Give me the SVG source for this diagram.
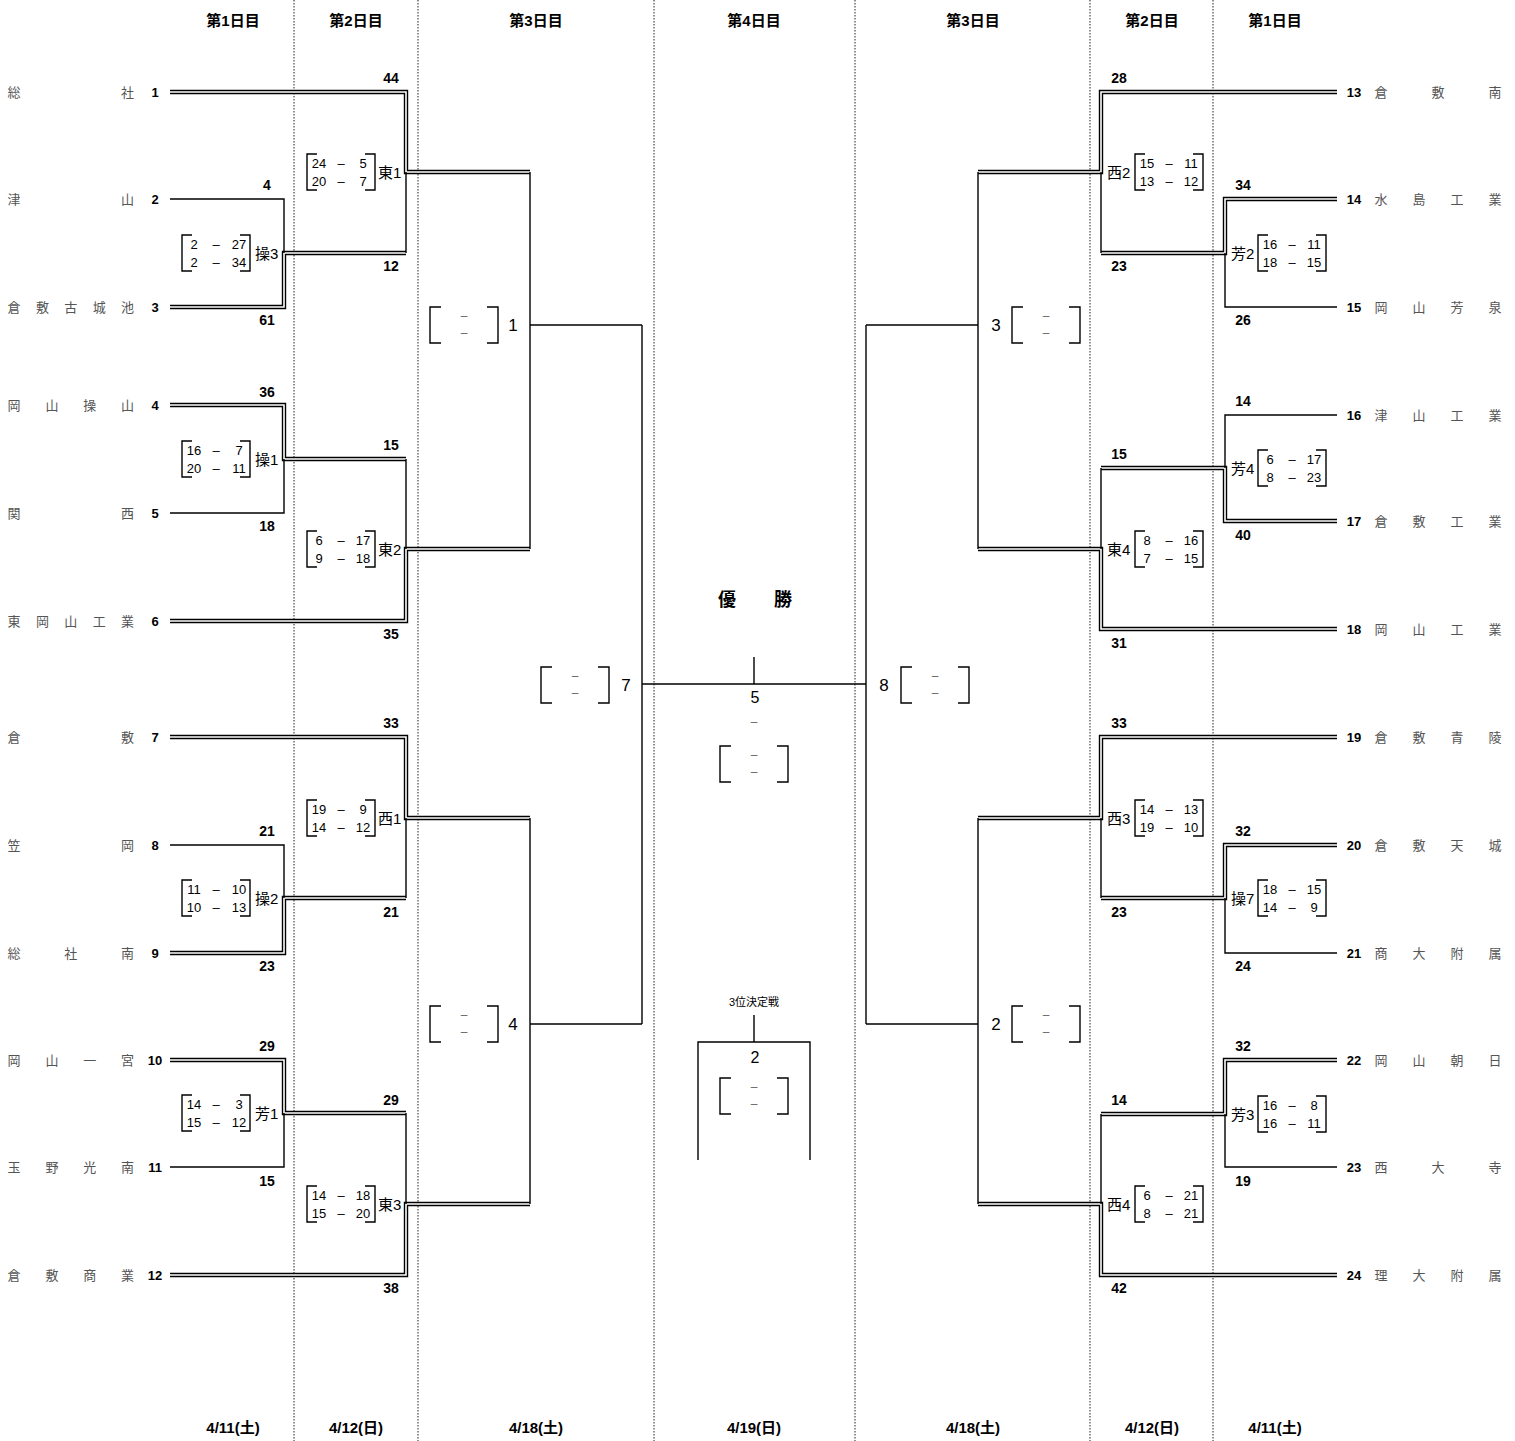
<svg xmlns="http://www.w3.org/2000/svg" width="1515" height="1441" viewBox="0 0 1515 1441">
<style>
text{font-family:"Liberation Sans","Noto Sans CJK JP",sans-serif;fill:#000;dominant-baseline:central}
.hd{font-size:15px;font-weight:bold;text-anchor:middle}
.nm{font-size:13px;fill:#555;text-anchor:middle}
.tn{font-size:13px;font-weight:bold;text-anchor:middle}
.sc{font-size:14px;font-weight:bold;text-anchor:middle}
.bx{font-size:13px;text-anchor:middle}
.lb{font-size:15px}
.mn{font-size:17px;text-anchor:middle}
.ds{font-size:12px;fill:#666;text-anchor:middle}
.dot{stroke:#222;stroke-width:1;stroke-dasharray:1.5 1.5;fill:none}
.s{stroke:#000;stroke-width:1.4;fill:none}
.dO{stroke:#000;stroke-width:4.4;fill:none;stroke-linejoin:miter}
.dI{stroke:#fff;stroke-width:1.6;fill:none;stroke-linejoin:miter}
.br{stroke:#000;stroke-width:1.4;fill:none}
</style>
<defs>
<path id="bk" d="M10,-18H0V18H10M58,-18H68V18H58"/>
<path id="bks" d="M11,-18H0V18H11M57,-18H68V18H57"/>
</defs>
<rect width="1515" height="1441" fill="#fff"/>
<g id="grid">
<path class="dot" d="M294,0V1441M418,0V1441M654,0V1441M855,0V1441M1090,0V1441M1213,0V1441"/>
</g>
<g id="headers">
<text class="hd" x="233" y="20">第1日目</text>
<text class="hd" x="356" y="20">第2日目</text>
<text class="hd" x="536" y="20">第3日目</text>
<text class="hd" x="754" y="20">第4日目</text>
<text class="hd" x="973" y="20">第3日目</text>
<text class="hd" x="1152" y="20">第2日目</text>
<text class="hd" x="1275" y="20">第1日目</text>
<text class="hd" x="233" y="1427">4/11(土)</text>
<text class="hd" x="356" y="1427">4/12(日)</text>
<text class="hd" x="536" y="1427">4/18(土)</text>
<text class="hd" x="754" y="1427">4/19(日)</text>
<text class="hd" x="973" y="1427">4/18(土)</text>
<text class="hd" x="1152" y="1427">4/12(日)</text>
<text class="hd" x="1275" y="1427">4/11(土)</text>
</g>
<g id="teams-left">
<text class="nm" x="14 127.6" y="92">総社</text><text class="tn" x="155" y="92">1</text>
<text class="nm" x="14 127.6" y="199">津山</text><text class="tn" x="155" y="199">2</text>
<text class="nm" x="14 42.4 70.8 99.2 127.6" y="307">倉敷古城池</text><text class="tn" x="155" y="307">3</text>
<text class="nm" x="14 51.9 89.8 127.6" y="405">岡山操山</text><text class="tn" x="155" y="405">4</text>
<text class="nm" x="14 127.6" y="513">関西</text><text class="tn" x="155" y="513">5</text>
<text class="nm" x="14 42.4 70.8 99.2 127.6" y="621">東岡山工業</text><text class="tn" x="155" y="621">6</text>
<text class="nm" x="14 127.6" y="737">倉敷</text><text class="tn" x="155" y="737">7</text>
<text class="nm" x="14 127.6" y="845">笠岡</text><text class="tn" x="155" y="845">8</text>
<text class="nm" x="14 70.8 127.6" y="953">総社南</text><text class="tn" x="155" y="953">9</text>
<text class="nm" x="14 51.9 89.8 127.6" y="1060">岡山一宮</text><text class="tn" x="155" y="1060">10</text>
<text class="nm" x="14 51.9 89.8 127.6" y="1167">玉野光南</text><text class="tn" x="155" y="1167">11</text>
<text class="nm" x="14 51.9 89.8 127.6" y="1275">倉敷商業</text><text class="tn" x="155" y="1275">12</text>
</g>
<g id="teams-right">
<text class="tn" x="1354" y="92">13</text><text class="nm" x="1381 1438 1495" y="92">倉敷南</text>
<text class="tn" x="1354" y="199">14</text><text class="nm" x="1381 1419 1457 1495" y="199">水島工業</text>
<text class="tn" x="1354" y="307">15</text><text class="nm" x="1381 1419 1457 1495" y="307">岡山芳泉</text>
<text class="tn" x="1354" y="415">16</text><text class="nm" x="1381 1419 1457 1495" y="415">津山工業</text>
<text class="tn" x="1354" y="521">17</text><text class="nm" x="1381 1419 1457 1495" y="521">倉敷工業</text>
<text class="tn" x="1354" y="629">18</text><text class="nm" x="1381 1419 1457 1495" y="629">岡山工業</text>
<text class="tn" x="1354" y="737">19</text><text class="nm" x="1381 1419 1457 1495" y="737">倉敷青陵</text>
<text class="tn" x="1354" y="845">20</text><text class="nm" x="1381 1419 1457 1495" y="845">倉敷天城</text>
<text class="tn" x="1354" y="953">21</text><text class="nm" x="1381 1419 1457 1495" y="953">商大附属</text>
<text class="tn" x="1354" y="1060">22</text><text class="nm" x="1381 1419 1457 1495" y="1060">岡山朝日</text>
<text class="tn" x="1354" y="1167">23</text><text class="nm" x="1381 1438 1495" y="1167">西大寺</text>
<text class="tn" x="1354" y="1275">24</text><text class="nm" x="1381 1419 1457 1495" y="1275">理大附属</text>
</g>
<g id="connectors">
<g id="winners">
<path class="dO" d="M170,92H406V172H530M170,307H284V253H406M170,405H284V459H406M170,621H406V549H530M170,737H406V818H530M170,953H284V898H406M170,1060H284V1113H406M170,1275H406V1204H530"/>
<path class="dI" d="M170,92H406V172H530M170,307H284V253H406M170,405H284V459H406M170,621H406V549H530M170,737H406V818H530M170,953H284V898H406M170,1060H284V1113H406M170,1275H406V1204H530"/>
<path class="dO" d="M1337,92H1101V172H978M1337,199H1225V253H1101M1337,521H1225V468H1101M1337,629H1101V549H978M1337,737H1101V818H978M1337,845H1225V898H1101M1337,1060H1225V1114H1101M1337,1275H1101V1204H978"/>
<path class="dI" d="M1337,92H1101V172H978M1337,199H1225V253H1101M1337,521H1225V468H1101M1337,629H1101V549H978M1337,737H1101V818H978M1337,845H1225V898H1101M1337,1060H1225V1114H1101M1337,1275H1101V1204H978"/>
</g>
<path class="s" d="M170,199H284V253M170,513H284V459M170,845H284V898M170,1167H284V1113M406,172V253M406,459V549M406,818V898M406,1113V1204M530,172V549M530,325H642M530,818V1204M530,1024H642M642,325V1024M642,684H866"/>
<path class="s" d="M1337,307H1225V253M1337,415H1225V468M1337,953H1225V898M1337,1167H1225V1114M1101,172V253M1101,468V549M1101,818V898M1101,1114V1204M978,172V549M978,325H866M978,818V1204M978,1024H866M866,325V1024"/>
<path class="s" d="M754,657V684M754,1015V1042M698,1160V1042H810V1160"/>
</g>
<g id="scores-left">
<text class="sc" x="267" y="185">4</text><text class="sc" x="267" y="320">61</text>
<text class="sc" x="267" y="392">36</text><text class="sc" x="267" y="526">18</text>
<text class="sc" x="267" y="831">21</text><text class="sc" x="267" y="966">23</text>
<text class="sc" x="267" y="1046">29</text><text class="sc" x="267" y="1181">15</text>
<text class="sc" x="391" y="78">44</text><text class="sc" x="391" y="266">12</text>
<text class="sc" x="391" y="445">15</text><text class="sc" x="391" y="634">35</text>
<text class="sc" x="391" y="723">33</text><text class="sc" x="391" y="912">21</text>
<text class="sc" x="391" y="1100">29</text><text class="sc" x="391" y="1288">38</text>
</g>
<g id="scores-right">
<text class="sc" x="1243" y="185">34</text><text class="sc" x="1243" y="320">26</text>
<text class="sc" x="1243" y="401">14</text><text class="sc" x="1243" y="535">40</text>
<text class="sc" x="1243" y="831">32</text><text class="sc" x="1243" y="966">24</text>
<text class="sc" x="1243" y="1046">32</text><text class="sc" x="1243" y="1181">19</text>
<text class="sc" x="1119" y="78">28</text><text class="sc" x="1119" y="266">23</text>
<text class="sc" x="1119" y="454">15</text><text class="sc" x="1119" y="643">31</text>
<text class="sc" x="1119" y="723">33</text><text class="sc" x="1119" y="912">23</text>
<text class="sc" x="1119" y="1100">14</text><text class="sc" x="1119" y="1288">42</text>
</g>
<g id="m-sou3"><use href="#bk" class="br" x="182" y="253"/><text class="bx" y="244"><tspan x="194">2</tspan><tspan x="216">–</tspan><tspan x="239">27</tspan></text><text class="bx" y="262"><tspan x="194">2</tspan><tspan x="216">–</tspan><tspan x="239">34</tspan></text><text class="lb" x="255" y="253">操3</text></g>
<g id="m-sou1"><use href="#bk" class="br" x="182" y="459"/><text class="bx" y="450"><tspan x="194">16</tspan><tspan x="216">–</tspan><tspan x="239">7</tspan></text><text class="bx" y="468"><tspan x="194">20</tspan><tspan x="216">–</tspan><tspan x="239">11</tspan></text><text class="lb" x="255" y="459">操1</text></g>
<g id="m-sou2"><use href="#bk" class="br" x="182" y="898"/><text class="bx" y="889"><tspan x="194">11</tspan><tspan x="216">–</tspan><tspan x="239">10</tspan></text><text class="bx" y="907"><tspan x="194">10</tspan><tspan x="216">–</tspan><tspan x="239">13</tspan></text><text class="lb" x="255" y="898">操2</text></g>
<g id="m-hou1"><use href="#bk" class="br" x="182" y="1113"/><text class="bx" y="1104"><tspan x="194">14</tspan><tspan x="216">–</tspan><tspan x="239">3</tspan></text><text class="bx" y="1122"><tspan x="194">15</tspan><tspan x="216">–</tspan><tspan x="239">12</tspan></text><text class="lb" x="255" y="1113">芳1</text></g>
<g id="m-higashi1"><use href="#bk" class="br" x="307" y="172"/><text class="bx" y="163"><tspan x="319">24</tspan><tspan x="341">–</tspan><tspan x="363">5</tspan></text><text class="bx" y="181"><tspan x="319">20</tspan><tspan x="341">–</tspan><tspan x="363">7</tspan></text><text class="lb" x="378" y="172">東1</text></g>
<g id="m-higashi2"><use href="#bk" class="br" x="307" y="549"/><text class="bx" y="540"><tspan x="319">6</tspan><tspan x="341">–</tspan><tspan x="363">17</tspan></text><text class="bx" y="558"><tspan x="319">9</tspan><tspan x="341">–</tspan><tspan x="363">18</tspan></text><text class="lb" x="378" y="549">東2</text></g>
<g id="m-nishi1"><use href="#bk" class="br" x="307" y="818"/><text class="bx" y="809"><tspan x="319">19</tspan><tspan x="341">–</tspan><tspan x="363">9</tspan></text><text class="bx" y="827"><tspan x="319">14</tspan><tspan x="341">–</tspan><tspan x="363">12</tspan></text><text class="lb" x="378" y="818">西1</text></g>
<g id="m-higashi3"><use href="#bk" class="br" x="307" y="1204"/><text class="bx" y="1195"><tspan x="319">14</tspan><tspan x="341">–</tspan><tspan x="363">18</tspan></text><text class="bx" y="1213"><tspan x="319">15</tspan><tspan x="341">–</tspan><tspan x="363">20</tspan></text><text class="lb" x="378" y="1204">東3</text></g>
<g id="m-nishi2"><text class="lb" x="1107" y="172">西2</text><use href="#bk" class="br" x="1135" y="172"/><text class="bx" y="163"><tspan x="1147">15</tspan><tspan x="1169">–</tspan><tspan x="1191">11</tspan></text><text class="bx" y="181"><tspan x="1147">13</tspan><tspan x="1169">–</tspan><tspan x="1191">12</tspan></text></g>
<g id="m-higashi4"><text class="lb" x="1107" y="549">東4</text><use href="#bk" class="br" x="1135" y="549"/><text class="bx" y="540"><tspan x="1147">8</tspan><tspan x="1169">–</tspan><tspan x="1191">16</tspan></text><text class="bx" y="558"><tspan x="1147">7</tspan><tspan x="1169">–</tspan><tspan x="1191">15</tspan></text></g>
<g id="m-nishi3"><text class="lb" x="1107" y="818">西3</text><use href="#bk" class="br" x="1135" y="818"/><text class="bx" y="809"><tspan x="1147">14</tspan><tspan x="1169">–</tspan><tspan x="1191">13</tspan></text><text class="bx" y="827"><tspan x="1147">19</tspan><tspan x="1169">–</tspan><tspan x="1191">10</tspan></text></g>
<g id="m-nishi4"><text class="lb" x="1107" y="1204">西4</text><use href="#bk" class="br" x="1135" y="1204"/><text class="bx" y="1195"><tspan x="1147">6</tspan><tspan x="1169">–</tspan><tspan x="1191">21</tspan></text><text class="bx" y="1213"><tspan x="1147">8</tspan><tspan x="1169">–</tspan><tspan x="1191">21</tspan></text></g>
<g id="m-hou2"><text class="lb" x="1231" y="253">芳2</text><use href="#bk" class="br" x="1258" y="253"/><text class="bx" y="244"><tspan x="1270">16</tspan><tspan x="1292">–</tspan><tspan x="1314">11</tspan></text><text class="bx" y="262"><tspan x="1270">18</tspan><tspan x="1292">–</tspan><tspan x="1314">15</tspan></text></g>
<g id="m-hou4"><text class="lb" x="1231" y="468">芳4</text><use href="#bk" class="br" x="1258" y="468"/><text class="bx" y="459"><tspan x="1270">6</tspan><tspan x="1292">–</tspan><tspan x="1314">17</tspan></text><text class="bx" y="477"><tspan x="1270">8</tspan><tspan x="1292">–</tspan><tspan x="1314">23</tspan></text></g>
<g id="m-sou7"><text class="lb" x="1231" y="898">操7</text><use href="#bk" class="br" x="1258" y="898"/><text class="bx" y="889"><tspan x="1270">18</tspan><tspan x="1292">–</tspan><tspan x="1314">15</tspan></text><text class="bx" y="907"><tspan x="1270">14</tspan><tspan x="1292">–</tspan><tspan x="1314">9</tspan></text></g>
<g id="m-hou3"><text class="lb" x="1231" y="1114">芳3</text><use href="#bk" class="br" x="1258" y="1114"/><text class="bx" y="1105"><tspan x="1270">16</tspan><tspan x="1292">–</tspan><tspan x="1314">8</tspan></text><text class="bx" y="1123"><tspan x="1270">16</tspan><tspan x="1292">–</tspan><tspan x="1314">11</tspan></text></g>
<g id="m1"><use href="#bks" class="br" x="430" y="325"/><text class="ds" x="464" y="316">–</text><text class="ds" x="464" y="333">–</text><text class="mn" x="513" y="325">1</text></g>
<g id="m4"><use href="#bks" class="br" x="430" y="1024"/><text class="ds" x="464" y="1015">–</text><text class="ds" x="464" y="1032">–</text><text class="mn" x="513" y="1024">4</text></g>
<g id="m7"><use href="#bks" class="br" x="541" y="685"/><text class="ds" x="575" y="676">–</text><text class="ds" x="575" y="693">–</text><text class="mn" x="626" y="685">7</text></g>
<g id="m8"><text class="mn" x="884" y="685">8</text><use href="#bks" class="br" x="901" y="685"/><text class="ds" x="935" y="676">–</text><text class="ds" x="935" y="693">–</text></g>
<g id="m3"><text class="mn" x="996" y="325">3</text><use href="#bks" class="br" x="1012" y="325"/><text class="ds" x="1046" y="316">–</text><text class="ds" x="1046" y="333">–</text></g>
<g id="m2"><text class="mn" x="996" y="1024">2</text><use href="#bks" class="br" x="1012" y="1024"/><text class="ds" x="1046" y="1015">–</text><text class="ds" x="1046" y="1032">–</text></g>
<g id="final">
<text x="727 783" y="600" style="font-size:18px;font-weight:bold;text-anchor:middle">優勝</text>
<text class="mn" x="755" y="697" style="font-size:16px">5</text>
<text class="ds" x="754" y="722">–</text>
<use href="#bks" class="br" x="720" y="764"/><text class="ds" x="754" y="755">–</text><text class="ds" x="754" y="772">–</text>
</g>
<g id="third">
<text x="754" y="1002" style="font-size:11px;text-anchor:middle">3位決定戦</text>
<text class="mn" x="755" y="1057" style="font-size:16px">2</text>
<use href="#bks" class="br" x="720" y="1096"/><text class="ds" x="754" y="1087">–</text><text class="ds" x="754" y="1104">–</text>
</g>
</svg>
